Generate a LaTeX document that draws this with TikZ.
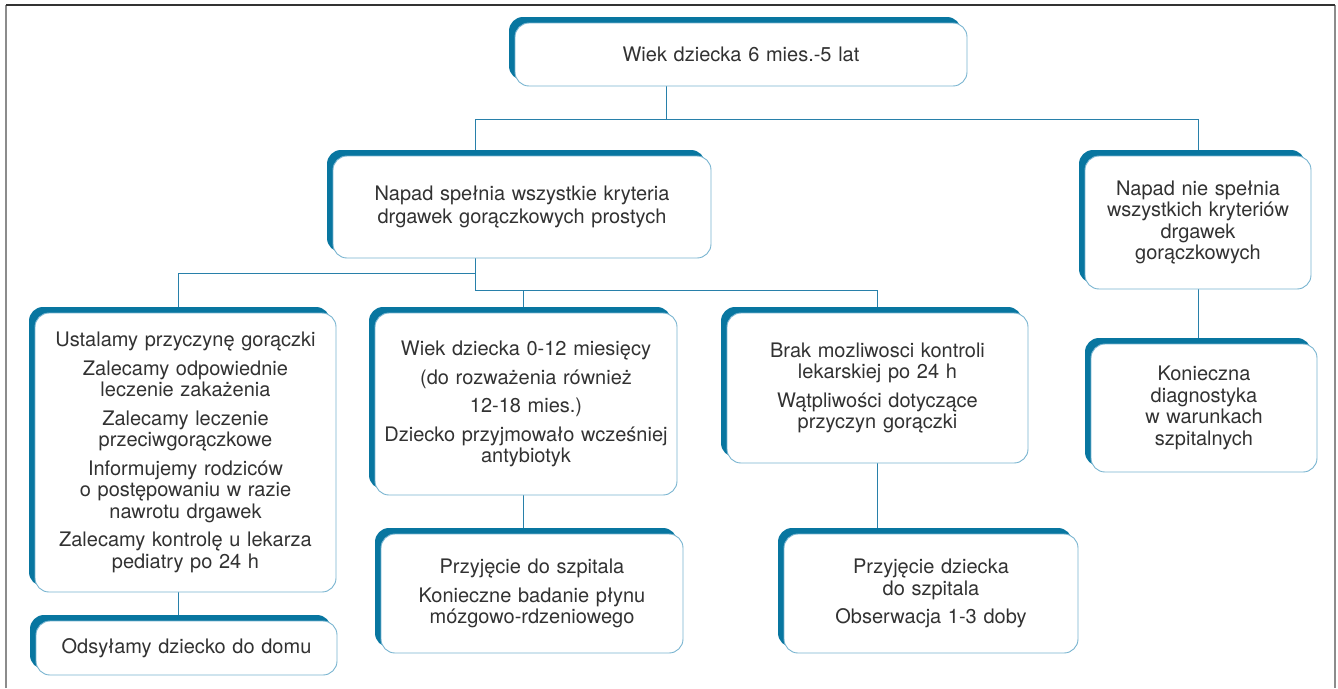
\documentclass[tikz,border=0pt]{standalone}
\usepackage{fontspec}
\setmainfont{TeX Gyre Heros}
\usepackage{tikz}
\usetikzlibrary{shadows,backgrounds}

\definecolor{morski}{RGB}{8,118,160}
\definecolor{obrys}{RGB}{120,180,208}
\definecolor{liniakol}{RGB}{40,128,170}
\definecolor{tekst}{RGB}{50,50,50}
\definecolor{ramka}{RGB}{140,140,140}

\tikzset{
  krok/.style={draw=obrys, line width=0.9pt, fill=white, rounded corners=14pt,
    general shadow={fill=morski, shadow xshift=-6pt, shadow yshift=6pt},
    align=center, inner sep=0pt, text=tekst,
    font=\fontsize{20}{21.5}\selectfont},
  polacz/.style={draw=liniakol, line width=1pt}
}

\begin{document}
\begin{tikzpicture}[x=1pt,y=-1pt]
\useasboundingbox (0,0) rectangle (1338,688);
   % ramka
   \draw[ramka, line width=1.3pt] (6,688) -- (6,5);
   \draw[ramka, line width=1.3pt] (1335,5) -- (1335,688);
   \draw[tekst, line width=1.3pt] (6,5) -- (1335,5);

   \draw (741,54.5) node[krok, minimum width=452pt, minimum height=63pt, text width=440pt] (wiek) {Wiek dziecka 6 mies.-5 lat};

   \draw (522,207) node[krok, minimum width=378pt, minimum height=102pt, text width=366pt] (proste) {Napad spełnia wszystkie kryteria\\[2pt] drgawek gorączkowych prostych};
   \draw (1198,222.5) node[krok, minimum width=226pt, minimum height=133pt, text width=214pt] (nieproste) {Napad nie spełnia\\ wszystkich kryteriów\\ drgawek\\ gorączkowych};

   \draw (185.5,452.5) node[krok, minimum width=301pt, minimum height=279pt, text width=296pt] (ustalamy) {Ustalamy przyczynę gorączki\\[7pt]
      Zalecamy odpowiednie\\ leczenie zakażenia\\[7pt]
      Zalecamy leczenie\\ przeciwgorączkowe\\[7pt]
      Informujemy rodziców\\ o postępowaniu w razie\\ nawrotu drgawek\\[7pt]
      Zalecamy kontrolę u lekarza\\ pediatry po 24 h};
   \draw (526,404) node[krok, minimum width=302pt, minimum height=182pt, text width=296pt] (niemowle) {Wiek dziecka 0-12 miesięcy\\[7pt]
      (do rozważenia również\\[7pt] 12-18 mies.)\\[7pt]
      Dziecko przyjmowało wcześniej\\ antybiotyk};
   \draw (877.5,388) node[krok, minimum width=301pt, minimum height=150pt, text width=296pt] (brak) {Brak mozliwosci kontroli\\ lekarskiej po 24 h\\[7pt]
      Wątpliwości dotyczące\\ przyczyn gorączki};
   \draw (1204,408) node[krok, minimum width=226pt, minimum height=128pt, text width=214pt] (diagn) {Konieczna\\ diagnostyka\\ w warunkach\\ szpitalnych};

   \draw (186.5,648) node[krok, minimum width=301pt, minimum height=54pt, text width=296pt] (dom) {Odsyłamy dziecko do domu};
   \draw (532,593.5) node[krok, minimum width=302pt, minimum height=119pt, text width=296pt] (plyn) {Przyjęcie do szpitala\\[7pt]
      Konieczne badanie płynu\\ mózgowo-rdzeniowego};
   \draw (931,593.5) node[krok, minimum width=294pt, minimum height=119pt, text width=288pt] (obserw) {Przyjęcie dziecka\\ do szpitala\\[7pt]
      Obserwacja 1-3 doby};

   \begin{scope}[on background layer]
   \coordinate (w1) at (666,119);
   \coordinate (w2) at (475,273);
   \coordinate (w3) at (475,290);
   \coordinate (xa) at (178,0);
   \coordinate (xb) at (523,0);
   \path[polacz] (wiek.south -| w1) -- (w1) -| (proste.north -| w2);
   \path[polacz] (w1) -| (nieproste.north);
   \path[polacz] (proste.south -| w2) -- (w3);
   \path[polacz] (w2) -| (xa |- ustalamy.north);
   \path[polacz] (w3) -| (xb |- niemowle.north);
   \path[polacz] (w3) -| (brak.north);
   \path[polacz] (xa |- ustalamy.south) -- (xa |- dom.north);
   \path[polacz] (xb |- niemowle.south) -- (xb |- plyn.north);
   \path[polacz] (brak.south) -- (brak.south |- obserw.north);
   \path[polacz] (nieproste.south) -- (nieproste.south |- diagn.north);
   \end{scope}

\end{tikzpicture}
\end{document}
